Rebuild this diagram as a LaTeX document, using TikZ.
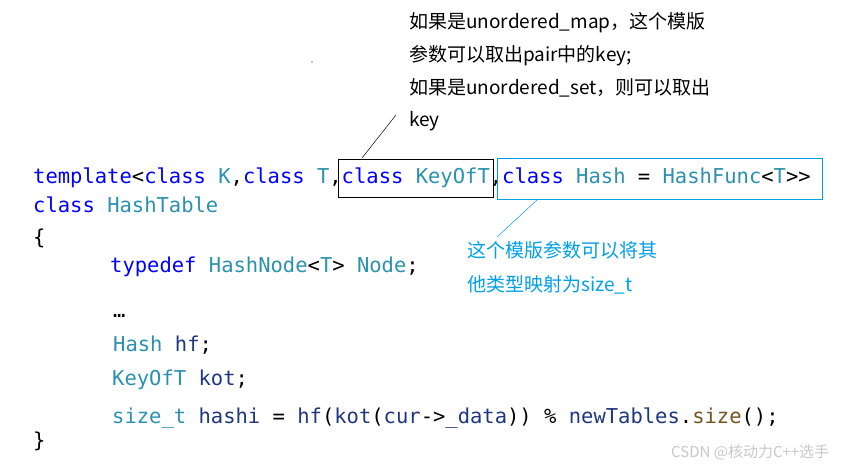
\documentclass[tikz,border=0pt]{standalone}
\usepackage{fontspec}
\setmonofont{DejaVu Sans Mono}
\newfontfamily\cjk{Noto Sans CJK SC}
\definecolor{kw}{HTML}{0000FF}
\definecolor{ty}{HTML}{2B91AF}
\definecolor{idn}{HTML}{1F377F}
\definecolor{fn}{HTML}{74531F}
\definecolor{note}{HTML}{00A0E9}
\definecolor{wm}{HTML}{C8C8C8}
\newcommand{\K}[1]{\textcolor{kw}{#1}}
\newcommand{\Ty}[1]{\textcolor{ty}{#1}}
\newcommand{\Id}[1]{\textcolor{idn}{#1}}
\newcommand{\Fn}[1]{\textcolor{fn}{#1}}
\begin{document}
\begin{tikzpicture}[x=1pt,y=-1pt,
  code/.style={anchor=base west,inner sep=0pt,font=\ttfamily\fontsize{20.5}{24}\selectfont},
  blacknote/.style={anchor=base west,inner sep=0pt,font=\cjk\fontsize{19}{22}\selectfont,text=black},
  bluenote/.style={anchor=base west,inner sep=0pt,font=\cjk\fontsize{19}{22}\selectfont,text=note},
  hlbox/.style={draw,line width=0.8pt,inner sep=0pt,fill=none}]
\useasboundingbox (0,0) rectangle (844,465);
\fill[white] (0,0) rectangle (844,465);
% code
\node[code] (l1) at (33,184) {\K{template}<\K{class} \Ty{K},\K{class} \Ty{T},\K{class} \Ty{KeyOfT},\K{class} \Ty{Hash} = \Ty{HashFunc}<\Ty{T}>>};
\node[code] (l2) at (33,213) {\K{class} \Ty{HashTable}};
\node[code] (l3) at (33,245) {\{};
\node[code] (l4) at (110,273) {\K{typedef} \Ty{HashNode}<\Ty{T}> \Ty{Node};};
\node[code] (l5) at (113,318) {…};
\node[code] (l6) at (113,352) {\Ty{Hash} \Id{hf};};
\node[code] (l7) at (112,385) {\Ty{KeyOfT} \Id{kot};};
\node[code] (l8) at (112,423) {\Ty{size\_t} \Id{hashi} = \Id{hf}(\Id{kot}(\Id{cur}->\Id{\_data})) \% \Id{newTables}.\Fn{size}();};
\node[code] (l9) at (33,447) {\}};
% boxes
\node[hlbox,draw=black,minimum width=155pt,minimum height=38pt] (kbox) at (415.5,178) {};
\node[hlbox,draw=note,minimum width=325pt,minimum height=41pt] (hbox) at (659.5,178.5) {};
% notes
\node[blacknote] (n1) at (409,29) {如果是unordered\_map，这个模版};
\node[blacknote] (n2) at (409,62) {参数可以取出pair中的key;};
\node[blacknote] (n3) at (409,95) {如果是unordered\_set，则可以取出};
\node[blacknote] (n4) at (409,127) {key};
\node[bluenote] (b1) at (467,258) {这个模版参数可以将其};
\node[bluenote] (b2) at (467,291) {他类型映射为size\_t};
% leaders
\coordinate (ka) at (362,158);
\coordinate (kn) at (396,115);
\coordinate (ha) at (537,200);
\coordinate (hn) at (497,237);
\draw[black,line width=0.5pt] (ka) -- (kn);
\draw[note,line width=0.5pt] (ha) -- (hn);
% stray dot
\fill[black] (312,62) circle (0.7);
% watermark
\node[anchor=base west,inner sep=0pt,font=\cjk\fontsize{15}{17}\selectfont,text=wm] (wmk) at (671,457) {CSDN @核动力C++选手};
\end{tikzpicture}
\end{document}
